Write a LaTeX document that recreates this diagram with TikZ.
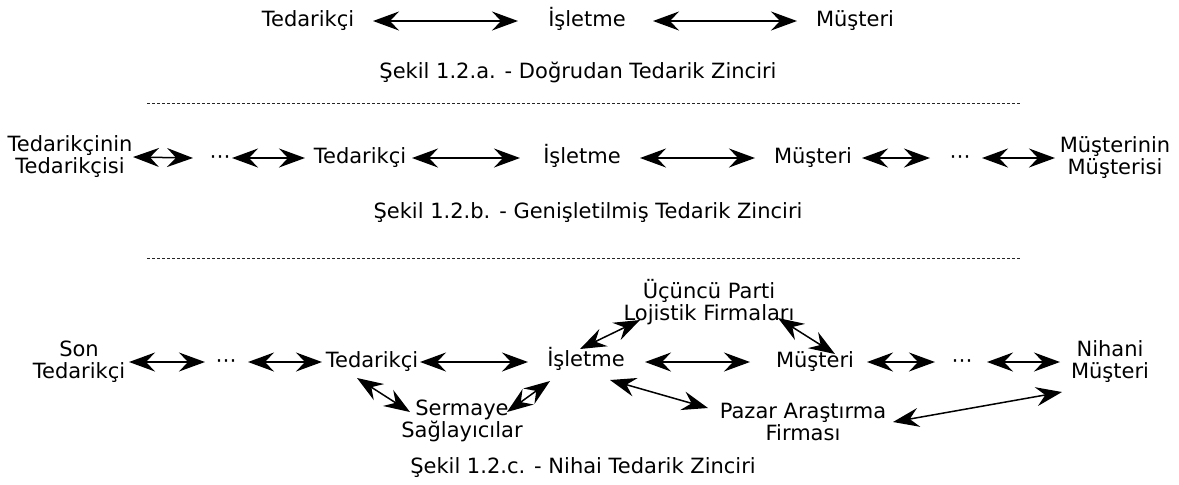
\documentclass[tikz,border=0pt]{standalone}
\usepackage{fontspec}
\setmainfont{DejaVu Sans}
\usetikzlibrary{arrows.meta}
\tikzset{bigtip/.tip={Stealth[length=13pt,width=9.5pt,inset=4.5pt]}}
\begin{document}
\begin{tikzpicture}[x=0.5pt,y=-0.5pt,
  lbl/.style={inner sep=0pt, font=\fontsize{10.5}{11}\selectfont, text height=8pt, text depth=2.5pt},
  two/.style={inner sep=0pt, font=\fontsize{10.5}{11}\selectfont, align=center},
  captext/.style={inner sep=0pt, font=\fontsize{10.5}{11}\selectfont},
  arr/.style={bigtip-bigtip, line width=0.75pt},
  sepline/.style={dash pattern=on 1.5pt off 1pt, line width=0.5pt, black!85}]
\useasboundingbox (0,0) rectangle (1179,484);
% Row A
\node[lbl] (t1) at (308,21) {Tedarikçi};
\node[lbl] (i1) at (587,21) {İşletme};
\node[lbl] (m1) at (855,21) {Müşteri};
\draw[arr] ([shift={(65,0)}]t1.center) -- ([shift={(-69,0)}]i1.center);
\draw[arr] ([shift={(66,0)}]i1.center) -- ([shift={(-58,0)}]m1.center);
\node[captext] (ca) at (578,72) {Şekil 1.2.a. - Doğrudan Tedarik Zinciri};
\draw[sepline] (147,103) -- (1020,103);
% Row B
\node[two] (tt) at (70,157) {Tedarikçinin\\Tedarikçisi};
\node[lbl] (d1) at (220,158) {⋯};
\node[lbl] (t2) at (360,158) {Tedarikçi};
\node[lbl] (i2) at (582,158) {İşletme};
\node[lbl] (m2) at (813,158) {Müşteri};
\node[lbl] (d2) at (960,158) {⋯};
\node[two] (mm) at (1115,158) {Müşterinin\\Müşterisi};
\draw[arr] ([shift={(63,0)}]tt.center) -- ([shift={(-27,0)}]d1.center);
\draw[arr] ([shift={(12,0)}]d1.center) -- ([shift={(-55,0)}]t2.center);
\draw[arr] ([shift={(52,0)}]t2.center) -- ([shift={(-62,0)}]i2.center);
\draw[arr] ([shift={(58,0)}]i2.center) -- ([shift={(-58,0)}]m2.center);
\draw[arr] ([shift={(49,0)}]m2.center) -- ([shift={(-30,0)}]d2.center);
\draw[arr] ([shift={(22,0)}]d2.center) -- ([shift={(-60,0)}]mm.center);
\node[captext] (cb) at (588,213) {Şekil 1.2.b. - Genişletilmiş Tedarik Zinciri};
\draw[sepline] (147,258) -- (1022,258);
% Row C
\node[two] (st) at (79,362) {Son\\Tedarikçi};
\node[lbl] (d3) at (226,362) {⋯};
\node[lbl] (t3) at (372,362) {Tedarikçi};
\node[lbl] (i3) at (586,361) {İşletme};
\node[lbl] (m3) at (815,362) {Müşteri};
\node[lbl] (d4) at (962,362) {⋯};
\node[two] (nm) at (1110,362) {Nihani\\Müşteri};
\node[two] (u3) at (709,302) {Üçüncü Parti\\Lojistik Firmaları};
\node[two] (s3) at (462,421) {Sermaye\\Sağlayıcılar};
\node[two] (p3) at (803,422) {Pazar Araştırma\\Firması};
\draw[arr] ([shift={(50,0)}]st.center) -- ([shift={(-21,0)}]d3.center);
\draw[arr] ([shift={(22,0)}]d3.center) -- ([shift={(-50,0)}]t3.center);
\draw[arr] ([shift={(48,0)}]t3.center) -- ([shift={(-58,1)}]i3.center);
\draw[arr] ([shift={(59,1)}]i3.center) -- ([shift={(-65,0)}]m3.center);
\draw[arr] ([shift={(52,0)}]m3.center) -- ([shift={(-27,0)}]d4.center);
\draw[arr] ([shift={(25,0)}]d4.center) -- ([shift={(-50,0)}]nm.center);
\draw[arr] ([shift={(-6,-12)}]i3.center) -- ([shift={(-69,18)}]u3.center);
\draw[arr] ([shift={(69,16)}]u3.center) -- ([shift={(20,-8)}]m3.center);
\draw[arr] ([shift={(-15,16)}]t3.center) -- ([shift={(-52,-9)}]s3.center);
\draw[arr] ([shift={(45,-9)}]s3.center) -- ([shift={(-36,20)}]i3.center);
\draw[arr] ([shift={(24,19)}]i3.center) -- ([shift={(-95,-14)}]p3.center);
\draw[arr] ([shift={(90,0)}]p3.center) -- ([shift={(-48,30)}]nm.center);
\node[captext] (cc) at (583,468) {Şekil 1.2.c. - Nihai Tedarik Zinciri};
\end{tikzpicture}
\end{document}
